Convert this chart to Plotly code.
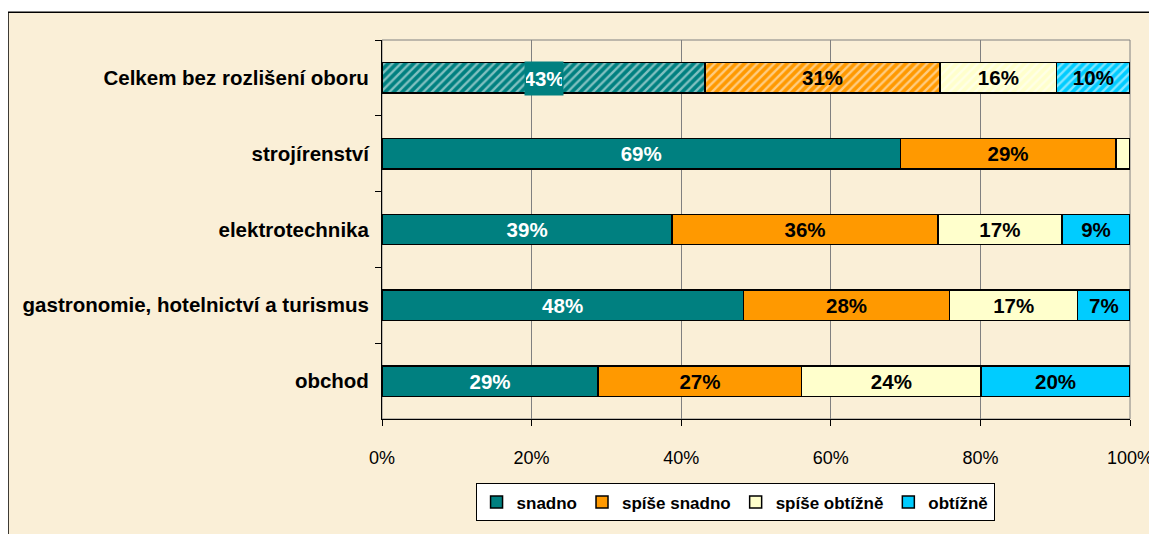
import plotly.graph_objects as go

categories = ["Celkem bez rozlišení oboru", "strojírenství", "elektrotechnika",
              "gastronomie, hotelnictví a turismus", "obchod"]
series_names = ["snadno", "spíše snadno", "spíše obtížně", "obtížně"]
snadno = [43.2, 69.3, 38.8, 48.3, 28.9]
spise_snadno = [31.4, 28.8, 35.5, 27.6, 27.2]
spise_obtizne = [15.6, 1.9, 16.6, 17.1, 24.0]
obtizne = [9.8, 0.0, 9.1, 7.0, 19.9]
snadno_lbl = ["", "69%", "39%", "48%", "29%"]
spise_snadno_lbl = ["31%", "29%", "36%", "28%", "27%"]
spise_obtizne_lbl = ["16%", "", "17%", "17%", "24%"]
obtizne_lbl = ["10%", "", "9%", "7%", "20%"]
total_label = "43%"
x_ticks = [0, 20, 40, 60, 80, 100]

colors = ["#008080", "#FF9900", "#FFFFCC", "#00CCFF"]
text_colors = ["white", "black", "black", "black"]
values = [snadno, spise_snadno, spise_obtizne, obtizne]
labels = [snadno_lbl, spise_snadno_lbl, spise_obtizne_lbl, obtizne_lbl]
hatch = ["/", "", "", "", ""]  # only the overall row is hatched

BAR_FONT = "Liberation Sans, Arial, sans-serif"
FONT = "Liberation Sans, Arial, sans-serif"

fig = go.Figure()
for name, vals, lbl, col, tcol in zip(series_names, values, labels, colors, text_colors):
    # points given bottom-up so the legend swatch takes an unhatched point
    fig.add_trace(go.Bar(
        y=categories[::-1], x=vals[::-1], name=name, orientation="h",
        text=lbl[::-1], textposition="inside", insidetextanchor="middle",
        textangle=0, constraintext="none",
        textfont=dict(family=BAR_FONT, size=20.5, color=tcol, weight="bold"),
        marker=dict(color=col, line=dict(color="black", width=1.5),
                    pattern=dict(shape=hatch[::-1], fillmode="overlay",
                                 fgcolor="white", size=6, solidity=0.4)),
        hoverinfo="skip",
    ))

fig.add_annotation(x=snadno[0] / 2, y=categories[0], xref="x", yref="y",
                   text=total_label, showarrow=False, bgcolor="#008080",
                   borderpad=1, width=36, height=31, yshift=-1,
                   font=dict(family=BAR_FONT, size=20.5, color="white", weight="bold"))

# parchment background with black border (left/top visible)
fig.add_shape(type="rect", xref="paper", yref="paper",
              x0=-0.5, y0=-0.35, x1=1.1, y1=1.0733,
              fillcolor="#FAEFD7", line=dict(color="black", width=1.5), layer="below")
# plot-area frame (grey)
fig.add_shape(type="rect", xref="x domain", yref="y domain",
              x0=0, y0=0, x1=1, y1=1,
              line=dict(color="#808080", width=1), layer="below")

fig.update_layout(
    width=1149, height=526,
    margin=dict(l=374, r=27, t=32, b=112),
    barmode="stack", bargap=0.6,
    paper_bgcolor="white", plot_bgcolor="rgba(0,0,0,0)",
    font=dict(family=FONT, color="black"),
    showlegend=True,
    legend=dict(orientation="h", x=0.472, xanchor="center", y=-0.17, yanchor="top",
                bgcolor="white", bordercolor="black", borderwidth=1,
                font=dict(family=FONT, size=17, color="black", weight="bold"),
                itemwidth=30, traceorder="normal"),
)
fig.update_xaxes(range=[0, 100], tickvals=x_ticks, ticktext=[f"{v}%" for v in x_ticks],
                 automargin=False,
                 showgrid=True, gridcolor="#808080", gridwidth=1,
                 showline=True, linecolor="black", linewidth=1,
                 ticks="outside", ticklen=6, tickcolor="black",
                 tickfont=dict(family=FONT, size=18, color="black"),
                 ticklabelstandoff=16, zeroline=False)
fig.update_yaxes(categoryorder="array", categoryarray=categories, autorange="reversed",
                 automargin=False,
                 showline=True, linecolor="black", linewidth=1,
                 ticks="outside", ticklen=6, tickcolor="black", tickson="boundaries",
                 tickfont=dict(family=FONT, size=20.5, color="black", weight="bold"),
                 ticklabelstandoff=8, showgrid=False)

fig.write_html("out.html")
